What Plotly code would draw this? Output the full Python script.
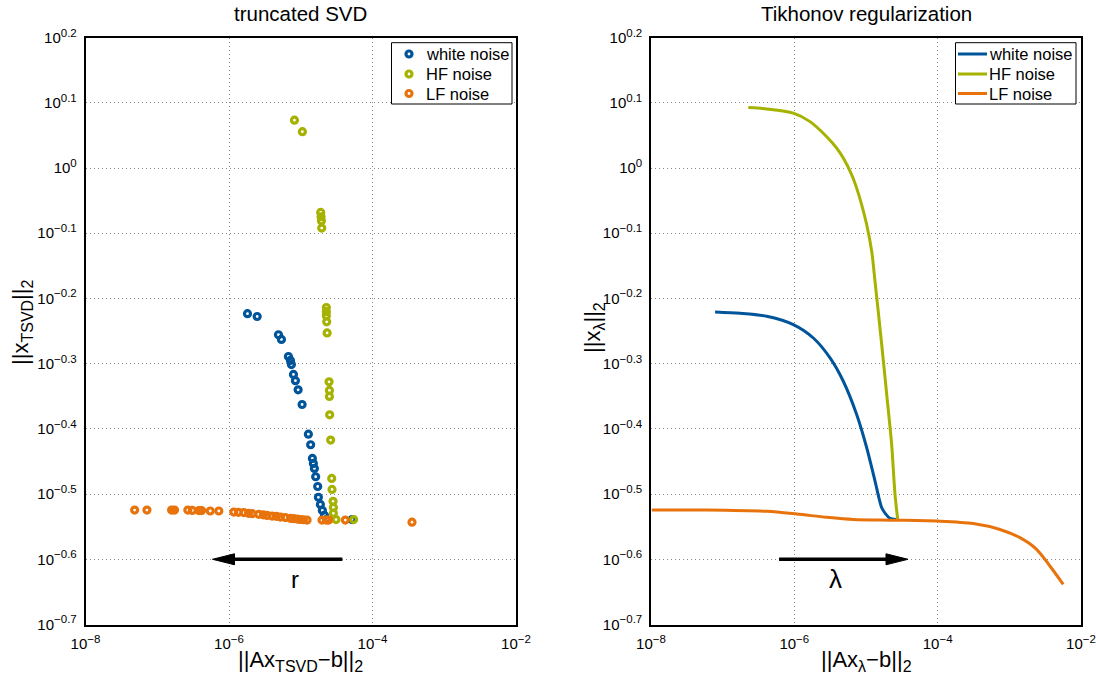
import plotly.graph_objects as go

# ---- truncated SVD: (residual norm, solution norm) per truncation level ----
tsvd_white_res = [1.81e-6, 2.47e-6, 4.89e-6, 5.38e-6, 6.73e-6, 7.18e-6, 7.41e-6, 7.91e-6,
                  8.43e-6, 9.19e-6, 1.044e-5, 1.277e-5, 1.374e-5, 1.452e-5, 1.50e-5, 1.549e-5,
                  1.614e-5, 1.722e-5, 1.762e-5, 1.877e-5, 2.0e-5, 2.14e-5, 2.28e-5, 5.19e-5]
tsvd_white_sol = [0.598, 0.592, 0.555, 0.546, 0.514, 0.507, 0.4995, 0.4825,
                  0.472, 0.457, 0.4339, 0.3907, 0.3764, 0.3587, 0.3524, 0.3462,
                  0.3362, 0.3248, 0.3126, 0.3049, 0.2985, 0.2933, 0.2891, 0.289]

tsvd_hf_res = [8.17e-6, 1.054e-5, 1.897e-5, 1.92e-5, 1.94e-5, 1.96e-5, 2.275e-5, 2.275e-5,
               2.275e-5, 2.30e-5, 2.33e-5, 2.48e-5, 2.51e-5, 2.51e-5, 2.53e-5, 2.61e-5,
               2.70e-5, 2.73e-5, 2.82e-5, 2.85e-5, 2.85e-5, 3.10e-5, 5.46e-5]
tsvd_hf_sol = [1.184, 1.137, 0.855, 0.842, 0.830, 0.809, 0.611, 0.6022,
               0.5937, 0.581, 0.5587, 0.470, 0.456, 0.4464, 0.4184, 0.3826,
               0.3342, 0.3215, 0.3082, 0.3017, 0.2954, 0.289, 0.289]

tsvd_lf_res = [4.84e-8, 7.18e-8, 1.585e-7, 1.74e-7, 2.67e-7, 3.08e-7, 3.80e-7, 4.14e-7,
               5.47e-7, 7.21e-7, 1.167e-6, 1.355e-6, 1.607e-6, 1.868e-6, 2.10e-6, 2.60e-6,
               3.02e-6, 3.40e-6, 3.99e-6, 4.58e-6, 5.21e-6, 6.11e-6, 7.18e-6, 7.98e-6,
               8.98e-6, 9.88e-6, 1.088e-5, 1.225e-5, 1.98e-5, 2.28e-5, 2.45e-5, 4.18e-5,
               3.55e-4]
tsvd_lf_sol = [0.2989, 0.2989, 0.2989, 0.2989, 0.2989, 0.2985, 0.2983, 0.2983,
               0.2979, 0.2979, 0.2968, 0.2965, 0.2962, 0.2955, 0.2951, 0.2944,
               0.2939, 0.2933, 0.2926, 0.2923, 0.2916, 0.2910, 0.2903, 0.2899,
               0.2895, 0.2891, 0.2888, 0.2885, 0.2885, 0.2885, 0.2885, 0.2885,
               0.2864]

# ---- Tikhonov: L-curves sampled along lambda ----
tik_white_res = [7.84e-8, 1.75e-7, 4.12e-7, 9.68e-7, 1.841e-6, 3.15e-6, 4.82e-6, 7.41e-6,
                 1.023e-5, 1.336e-5, 1.656e-5, 1.90e-5, 2.16e-5, 2.62e-5]
tik_white_sol = [0.6015, 0.5986, 0.5924, 0.5752, 0.5487, 0.5114, 0.4710, 0.4188,
                 0.3724, 0.3311, 0.3014, 0.2944, 0.2902, 0.2891]

tik_hf_res = [2.28e-7, 4.12e-7, 9.68e-7, 1.656e-6, 2.83e-6, 3.90e-6, 4.82e-6, 6.32e-6,
              7.41e-6, 8.71e-6, 1.023e-5, 1.202e-5, 1.336e-5, 1.656e-5, 1.945e-5, 2.28e-5,
              2.54e-5, 2.77e-5]
tik_hf_sol = [1.238, 1.232, 1.214, 1.178, 1.117, 1.073, 1.0356, 0.9763,
              0.9315, 0.878, 0.8185, 0.7449, 0.6700, 0.5363, 0.4495, 0.3768,
              0.3158, 0.2891]

tik_lf_res = [1.026e-8, 6.0e-8, 4.12e-7, 1.08e-6, 2.83e-6, 6.65e-6, 2.40e-5, 1.076e-4,
              3.14e-4, 7.40e-4, 1.406e-3, 2.40e-3, 3.68e-3, 5.65e-3]
tik_lf_sol = [0.2989, 0.2989, 0.2975, 0.2947, 0.2913, 0.2891, 0.2884, 0.2874,
              0.2850, 0.2791, 0.2711, 0.2602, 0.2453, 0.2299]

series_names = ["white noise", "HF noise", "LF noise"]
colors = ["#00549a", "#a5b200", "#e8730c"]

x_tick_exp = [-8, -6, -4, -2]
y_tick_exp = ["0.2", "0.1", "0", "-0.1", "-0.2", "-0.3", "-0.4", "-0.5", "-0.6", "-0.7"]

W, H = 1096, 677
FONT = "Liberation Sans, Arial, Helvetica, sans-serif"

# axes placement (paper fractions)
XD1 = [85.5 / W, 516 / W]
XD2 = [651 / W, 1081 / W]
YD = [1 - 624.5 / H, 1 - 37.6 / H]
XLOG = (-8, -2)
YLOG = (-0.7, 0.2)


def px_x(dom, lx):
    return dom[0] + (lx - XLOG[0]) / (XLOG[1] - XLOG[0]) * (dom[1] - dom[0])


def px_y(ly):
    return YD[0] + (ly - YLOG[0]) / (YLOG[1] - YLOG[0]) * (YD[1] - YD[0])


fig = go.Figure()

tsvd = [(tsvd_white_res, tsvd_white_sol), (tsvd_hf_res, tsvd_hf_sol), (tsvd_lf_res, tsvd_lf_sol)]
MARKER = dict(symbol="circle-open", size=6)
for (xs, ys), name, c in zip(tsvd, series_names, colors):
    fig.add_trace(go.Scatter(
        x=xs, y=ys, mode="markers", name=name, showlegend=False,
        marker=dict(MARKER, color=c, line=dict(width=3.2, color=c)),
        xaxis="x", yaxis="y"))

tik = [(tik_white_res, tik_white_sol), (tik_hf_res, tik_hf_sol), (tik_lf_res, tik_lf_sol)]
for (xs, ys), name, c in zip(tik, series_names, colors):
    fig.add_trace(go.Scatter(
        x=xs, y=ys, mode="lines", name=name, showlegend=False,
        line=dict(color=c, width=3, shape="spline", smoothing=0.8),
        xaxis="x2", yaxis="y2"))


def sup(e):
    return ("10<sup><span style='font-size:11.5px'>" + str(e).replace("-", "\u2212")
            + "</span></sup>")


GRID = dict(showgrid=True, gridcolor="#8a8a8a", griddash="1px,3px", gridwidth=1)
xaxis_common = dict(
    type="log", range=list(XLOG), showline=True, linecolor="black", linewidth=1.5,
    mirror=True, ticks="", tickvals=[10 ** e for e in x_tick_exp],
    ticktext=[sup(e) for e in x_tick_exp], ticklabelstandoff=5, ticklabeloverflow="allow",
    tickfont=dict(family=FONT, size=15, color="black"), zeroline=False, **GRID)
yaxis_common = dict(
    type="log", range=list(YLOG), domain=YD, showline=True, linecolor="black",
    linewidth=1.5, mirror=True, ticks="", tickvals=[10 ** float(e) for e in y_tick_exp],
    ticktext=[sup(e) for e in y_tick_exp], ticklabelstandoff=4, ticklabeloverflow="allow",
    tickfont=dict(family=FONT, size=15, color="black"), zeroline=False, **GRID)

fig.update_layout(
    width=W, height=H,
    margin=dict(l=0, r=0, t=0, b=0, autoexpand=False),
    paper_bgcolor="white", plot_bgcolor="rgba(0,0,0,0)",
    font=dict(family=FONT, color="black"),
    xaxis=dict(xaxis_common, domain=XD1, anchor="y"),
    yaxis=dict(yaxis_common, anchor="x"),
    xaxis2=dict(xaxis_common, domain=XD2, anchor="y2"),
    yaxis2=dict(yaxis_common, anchor="x2"),
    # full-figure overlay in pixel units, used for the legend boxes
    xaxis3=dict(domain=[0, 1], range=[0, W], visible=False, fixedrange=True, anchor="y3"),
    yaxis3=dict(domain=[0, 1], range=[H, 0], visible=False, fixedrange=True, anchor="x3"),
    showlegend=False,
)

# ---- legends (boxed, top-right of each panel) ----
LEG_ROWS = [54, 74, 93.5]
LEG_FONT = dict(family=FONT, size=16.5, color="black")


def legend_box(x0, x1, y0, y1):
    fig.add_shape(type="rect", xref="x3", yref="y3", x0=x0, x1=x1, y0=y0, y1=y1,
                  line=dict(color="black", width=1), fillcolor="white", layer="below")


legend_box(391.5, 512, 42.7, 104)
for row, name, c in zip(LEG_ROWS, series_names, colors):
    fig.add_trace(go.Scatter(x=[409], y=[row], mode="markers", showlegend=False,
                             hoverinfo="skip", xaxis="x3", yaxis="y3",
                             marker=dict(MARKER, color=c, line=dict(width=3.2, color=c))))
    fig.add_annotation(text=name, x=424, y=row, xref="x3", yref="y3", showarrow=False,
                       xanchor="left", yanchor="middle", font=LEG_FONT)

legend_box(955.5, 1076, 42.7, 104)
for row, name, c in zip(LEG_ROWS, series_names, colors):
    fig.add_trace(go.Scatter(x=[958, 987], y=[row, row], mode="lines", showlegend=False,
                             hoverinfo="skip", xaxis="x3", yaxis="y3",
                             line=dict(color=c, width=3)))
    fig.add_annotation(text=name, x=987, y=row, xref="x3", yref="y3", showarrow=False,
                       xanchor="left", yanchor="middle", font=LEG_FONT)

# ---- titles and axis labels ----
SUBF = "<sub><span style='font-size:16px'>{}</span></sub>"
texts = [
    ("truncated SVD", (XD1[0] + XD1[1]) / 2, 1 - 13 / H, 20.5, 0),
    ("Tikhonov regularization", (XD2[0] + XD2[1]) / 2, 1 - 13 / H, 20.5, 0),
    ("||Ax" + SUBF.format("TSVD") + "\u2212b||" + SUBF.format("2"),
     (XD1[0] + XD1[1]) / 2, 1 - 661 / H, 22, 0),
    ("||Ax" + SUBF.format("\u03bb") + "\u2212b||" + SUBF.format("2"),
     (XD2[0] + XD2[1]) / 2, 1 - 661 / H, 22, 0),
    ("||x" + SUBF.format("TSVD") + "||" + SUBF.format("2"), 22 / W, 1 - 322 / H, 22, -90),
    ("||x" + SUBF.format("\u03bb") + "||" + SUBF.format("2"), 594 / W, 1 - 328 / H, 22, -90),
]
for t, x, y, s, ang in texts:
    fig.add_annotation(text=t, x=x, y=y, xref="paper", yref="paper", showarrow=False,
                       xanchor="center", yanchor="middle", textangle=ang,
                       font=dict(family=FONT, size=s, color="black"))


# ---- direction arrows (truncation index r and regularization parameter lambda) ----
def arrow(dom, tail_lx, tip_lx, ly):
    x_tail, x_tip, y = px_x(dom, tail_lx), px_x(dom, tip_lx), px_y(ly)
    direction = 1 if x_tip > x_tail else -1
    head_len, head_half = 22 / W, 5.5 / H
    x_base = x_tip - direction * head_len
    fig.add_shape(type="line", xref="paper", yref="paper", x0=x_tail, y0=y,
                  x1=x_base + direction * 2 / W, y1=y, line=dict(color="black", width=3.5))
    fig.add_shape(type="path", xref="paper", yref="paper",
                  path=f"M {x_tip},{y} L {x_base},{y + head_half} L {x_base},{y - head_half} Z",
                  fillcolor="black", line=dict(color="black", width=1))


arrow(XD1, -4.42, -6.23, -0.6)
arrow(XD2, -6.213, -4.414, -0.6)

fig.add_annotation(text="r", x=px_x(XD1, -5.158), y=px_y(-0.655), xref="paper", yref="paper",
                   showarrow=False, font=dict(family=FONT, size=24, color="black"))
fig.add_annotation(text="\u03bb", x=px_x(XD2, -5.307), y=px_y(-0.656), xref="paper",
                   yref="paper", showarrow=False, font=dict(family=FONT, size=26, color="black"))

fig.write_html("out.html", config={"displayModeBar": False})
